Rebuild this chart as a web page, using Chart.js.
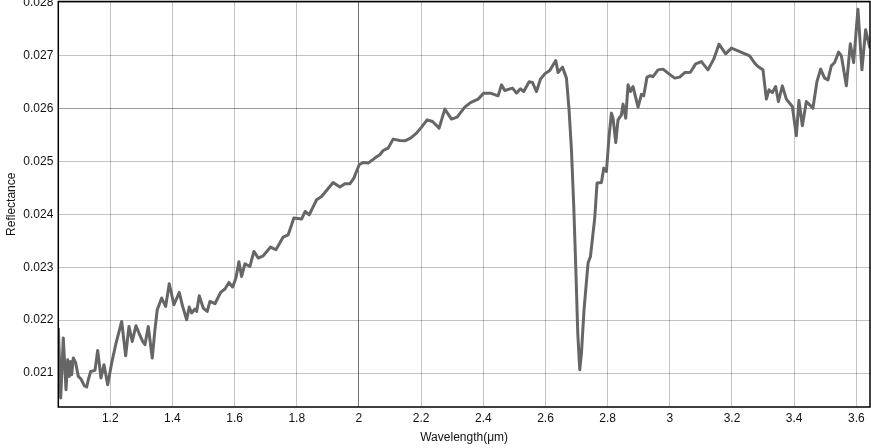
<!DOCTYPE html>
<html>
<head>
<meta charset="utf-8">
<script src="https://cdn.jsdelivr.net/npm/chart.js@4"></script>
<style>
  html, body { margin: 0; padding: 0; background: #fff; }
  #wrap { width: 871px; height: 448px; position: relative; }
</style>
</head>
<body>
<div id="wrap"><canvas id="c" width="871" height="448"></canvas></div>
<script>
// Wavelength (µm)
const wavelengths = [
  1.033, 1.0405, 1.0489, 1.0576, 1.0630, 1.0682, 1.0727, 1.0759, 1.0810, 1.0888,
  1.0971, 1.1058, 1.1164, 1.1241, 1.1293, 1.1370, 1.1508, 1.1595, 1.1701, 1.1798,
  1.1917, 1.2045, 1.2174, 1.2367, 1.2495, 1.2601, 1.2707, 1.2826, 1.2923, 1.3042,
  1.3116, 1.3222, 1.3351, 1.3437, 1.3511, 1.3653, 1.3781, 1.3897, 1.4048, 1.4219,
  1.4328, 1.4457, 1.4540, 1.4617, 1.4724, 1.4778, 1.4862, 1.4990, 1.5119, 1.5206,
  1.5367, 1.5550, 1.5688, 1.5817, 1.5936, 1.6042, 1.6138, 1.6225, 1.6331, 1.6492,
  1.6621, 1.6759, 1.6920, 1.7158, 1.7328, 1.7563, 1.7724, 1.7907, 1.8154, 1.8270,
  1.8399, 1.8637, 1.8797, 1.9170, 1.9386, 1.9547, 1.9707, 1.9836, 2.0007, 2.0135,
  2.0296, 2.0511, 2.0672, 2.0778, 2.0939, 2.1100, 2.1315, 2.1476, 2.1659, 2.1852,
  2.2013, 2.2193, 2.2367, 2.2579, 2.2762, 2.2978, 2.3158, 2.3405, 2.3588, 2.3833,
  2.4016, 2.4232, 2.4476, 2.4585, 2.4691, 2.4939, 2.5068, 2.5196, 2.5302, 2.5473,
  2.5582, 2.5711, 2.5839, 2.5978, 2.6138, 2.6331, 2.6405, 2.6547, 2.6675, 2.6759,
  2.6836, 2.6910, 2.6974, 2.7039, 2.7103, 2.7158, 2.7241, 2.7370, 2.7447, 2.7585,
  2.7659, 2.7801, 2.7875, 2.7961, 2.8045, 2.8122, 2.8174, 2.8261, 2.8334, 2.8444,
  2.8495, 2.8582, 2.8656, 2.8733, 2.8817, 2.8978, 2.9087, 2.9161, 2.9267, 2.9354,
  2.9460, 2.9621, 2.9781, 2.9942, 3.0158, 3.0318, 3.0479, 3.0662, 3.0833, 3.1016,
  3.1228, 3.1412, 3.1582, 3.1798, 3.1981, 3.2193, 3.2569, 3.2730, 3.2836, 3.2997,
  3.3106, 3.3190, 3.3299, 3.3405, 3.3492, 3.3621, 3.3749, 3.3942, 3.4071, 3.4154,
  3.4264, 3.4392, 3.4605, 3.4733, 3.4852, 3.4981, 3.5087, 3.5196, 3.5302, 3.5431,
  3.5518, 3.5679, 3.5807, 3.5913, 3.6052, 3.6180, 3.6299, 3.6440
];

// Reflectance
const reflectance = [
  0.021851, 0.020527, 0.021662, 0.020684, 0.021251, 0.020936, 0.021219, 0.020968, 0.021284, 0.021189,
  0.020936, 0.020887, 0.020760, 0.020735, 0.020873, 0.021030, 0.021049, 0.021427, 0.020905, 0.021157,
  0.020779, 0.021189, 0.021535, 0.021975, 0.021327, 0.021881, 0.021597, 0.021894, 0.021756, 0.021597,
  0.021535, 0.021881, 0.021284, 0.021819, 0.022197, 0.022418, 0.022259, 0.022688, 0.022291, 0.022524,
  0.022259, 0.022008, 0.022248, 0.022134, 0.022210, 0.022164, 0.022461, 0.022229, 0.022164, 0.022354,
  0.022310, 0.022524, 0.022588, 0.022713, 0.022626, 0.022796, 0.023104, 0.022826, 0.023066, 0.023015,
  0.023299, 0.023174, 0.023217, 0.023382, 0.023331, 0.023571, 0.023614, 0.023930, 0.023911, 0.024055,
  0.023992, 0.024276, 0.024338, 0.024603, 0.024516, 0.024578, 0.024578, 0.024686, 0.024938, 0.024981,
  0.024970, 0.025064, 0.025127, 0.025208, 0.025253, 0.025423, 0.025397, 0.025391, 0.025442, 0.025537,
  0.025650, 0.025788, 0.025756, 0.025631, 0.025991, 0.025802, 0.025839, 0.026028, 0.026115, 0.026180,
  0.026293, 0.026293, 0.026242, 0.026450, 0.026342, 0.026388, 0.026293, 0.026374, 0.026323, 0.026507,
  0.026494, 0.026323, 0.026558, 0.026658, 0.026720, 0.026909, 0.026682, 0.026785, 0.026577, 0.025977,
  0.025221, 0.024149, 0.023015, 0.021756, 0.021062, 0.021378, 0.022197, 0.023079, 0.023204, 0.023930,
  0.024592, 0.024603, 0.024875, 0.024811, 0.025473, 0.025915, 0.025820, 0.025359, 0.025788, 0.025883,
  0.026085, 0.025820, 0.026450, 0.026323, 0.026418, 0.026028, 0.026270, 0.026242, 0.026596, 0.026620,
  0.026607, 0.026733, 0.026747, 0.026671, 0.026577, 0.026596, 0.026682, 0.026689, 0.026847, 0.026890,
  0.026733, 0.026936, 0.027219, 0.027036, 0.027144, 0.027093, 0.026998, 0.026860, 0.026796, 0.026733,
  0.026180, 0.026356, 0.026304, 0.026418, 0.026134, 0.026431, 0.026180, 0.026040, 0.025486, 0.026153,
  0.025675, 0.026134, 0.026010, 0.026512, 0.026747, 0.026577, 0.026544, 0.026809, 0.026872, 0.027068,
  0.026998, 0.026431, 0.027225, 0.026872, 0.027881, 0.026733, 0.027490, 0.027144
];

const xTickValues = [1.2, 1.4, 1.6, 1.8, 2, 2.2, 2.4, 2.6, 2.8, 3, 3.2, 3.4, 3.6];
const yTickValues = [0.021, 0.022, 0.023, 0.024, 0.025, 0.026, 0.027, 0.028];
const xRange = [1.0328, 3.644];
const yRange = [0.020357, 0.028026];
const xTitle = 'Wavelength(μm)';
const yTitle = 'Reflectance';

const points = wavelengths.map((w, i) => ({ x: w, y: reflectance[i] }));
const FONT = '"Liberation Sans", Arial, Helvetica, sans-serif';

const frame = {
  id: 'frame',
  afterDraw(chart) {
    const a = chart.chartArea, ctx = chart.ctx;
    ctx.save();
    ctx.strokeStyle = '#000';
    ctx.lineWidth = 1.5;
    ctx.strokeRect(a.left, a.top, a.right - a.left, a.bottom - a.top);
    ctx.restore();
  }
};

new Chart(document.getElementById('c'), {
  type: 'line',
  data: {
    datasets: [{
      data: points,
      borderColor: '#666666',
      borderWidth: 3,
      pointRadius: 0,
      pointHoverRadius: 0,
      tension: 0,
      fill: false,
      borderJoinStyle: 'round'
    }]
  },
  options: {
    responsive: false,
    animation: false,
    devicePixelRatio: 1,
    parsing: false,
    layout: { padding: { left: 0, right: 1, top: 1.5, bottom: 0 } },
    plugins: { legend: { display: false }, tooltip: { enabled: false } },
    scales: {
      x: {
        type: 'linear',
        min: xRange[0],
        max: xRange[1],
        afterBuildTicks(s) { s.ticks = xTickValues.map(v => ({ value: v })); },
        afterFit(s) { s.height = 41; s.paddingLeft = 0; s.paddingRight = 0; },
        border: { display: false },
        grid: {
          drawTicks: false,
          lineWidth: 1,
          color: (c) => (c.tick && c.tick.value === 2) ? 'rgba(0,0,0,0.55)' : 'rgba(0,0,0,0.24)'
        },
        ticks: {
          padding: 4,
          color: '#111',
          font: { family: FONT, size: 12 },
          maxRotation: 0,
          autoSkip: false,
          callback: (v) => String(+Number(v).toFixed(4))
        },
        title: {
          display: true,
          text: xTitle,
          color: '#111',
          font: { family: FONT, size: 12 },
          padding: { top: 2, bottom: 3 }
        }
      },
      y: {
        type: 'linear',
        min: yRange[0],
        max: yRange[1],
        afterBuildTicks(s) { s.ticks = yTickValues.map(v => ({ value: v })); },
        afterFit(s) { s.width = 58.3; s.paddingTop = 0; s.paddingBottom = 0; },
        border: { display: false },
        grid: {
          drawTicks: false,
          lineWidth: 1,
          color: (c) => (c.tick && Math.abs(c.tick.value - 0.026) < 1e-9) ? 'rgba(0,0,0,0.4)' : 'rgba(0,0,0,0.24)'
        },
        ticks: {
          padding: 5,
          color: '#111',
          font: { family: FONT, size: 12 },
          autoSkip: false,
          callback: (v) => String(+Number(v).toFixed(4))
        },
        title: {
          display: true,
          text: yTitle,
          color: '#111',
          font: { family: FONT, size: 12 },
          padding: { top: 4, bottom: 4 }
        }
      }
    }
  },
  plugins: [frame]
});
</script>
</body>
</html>
